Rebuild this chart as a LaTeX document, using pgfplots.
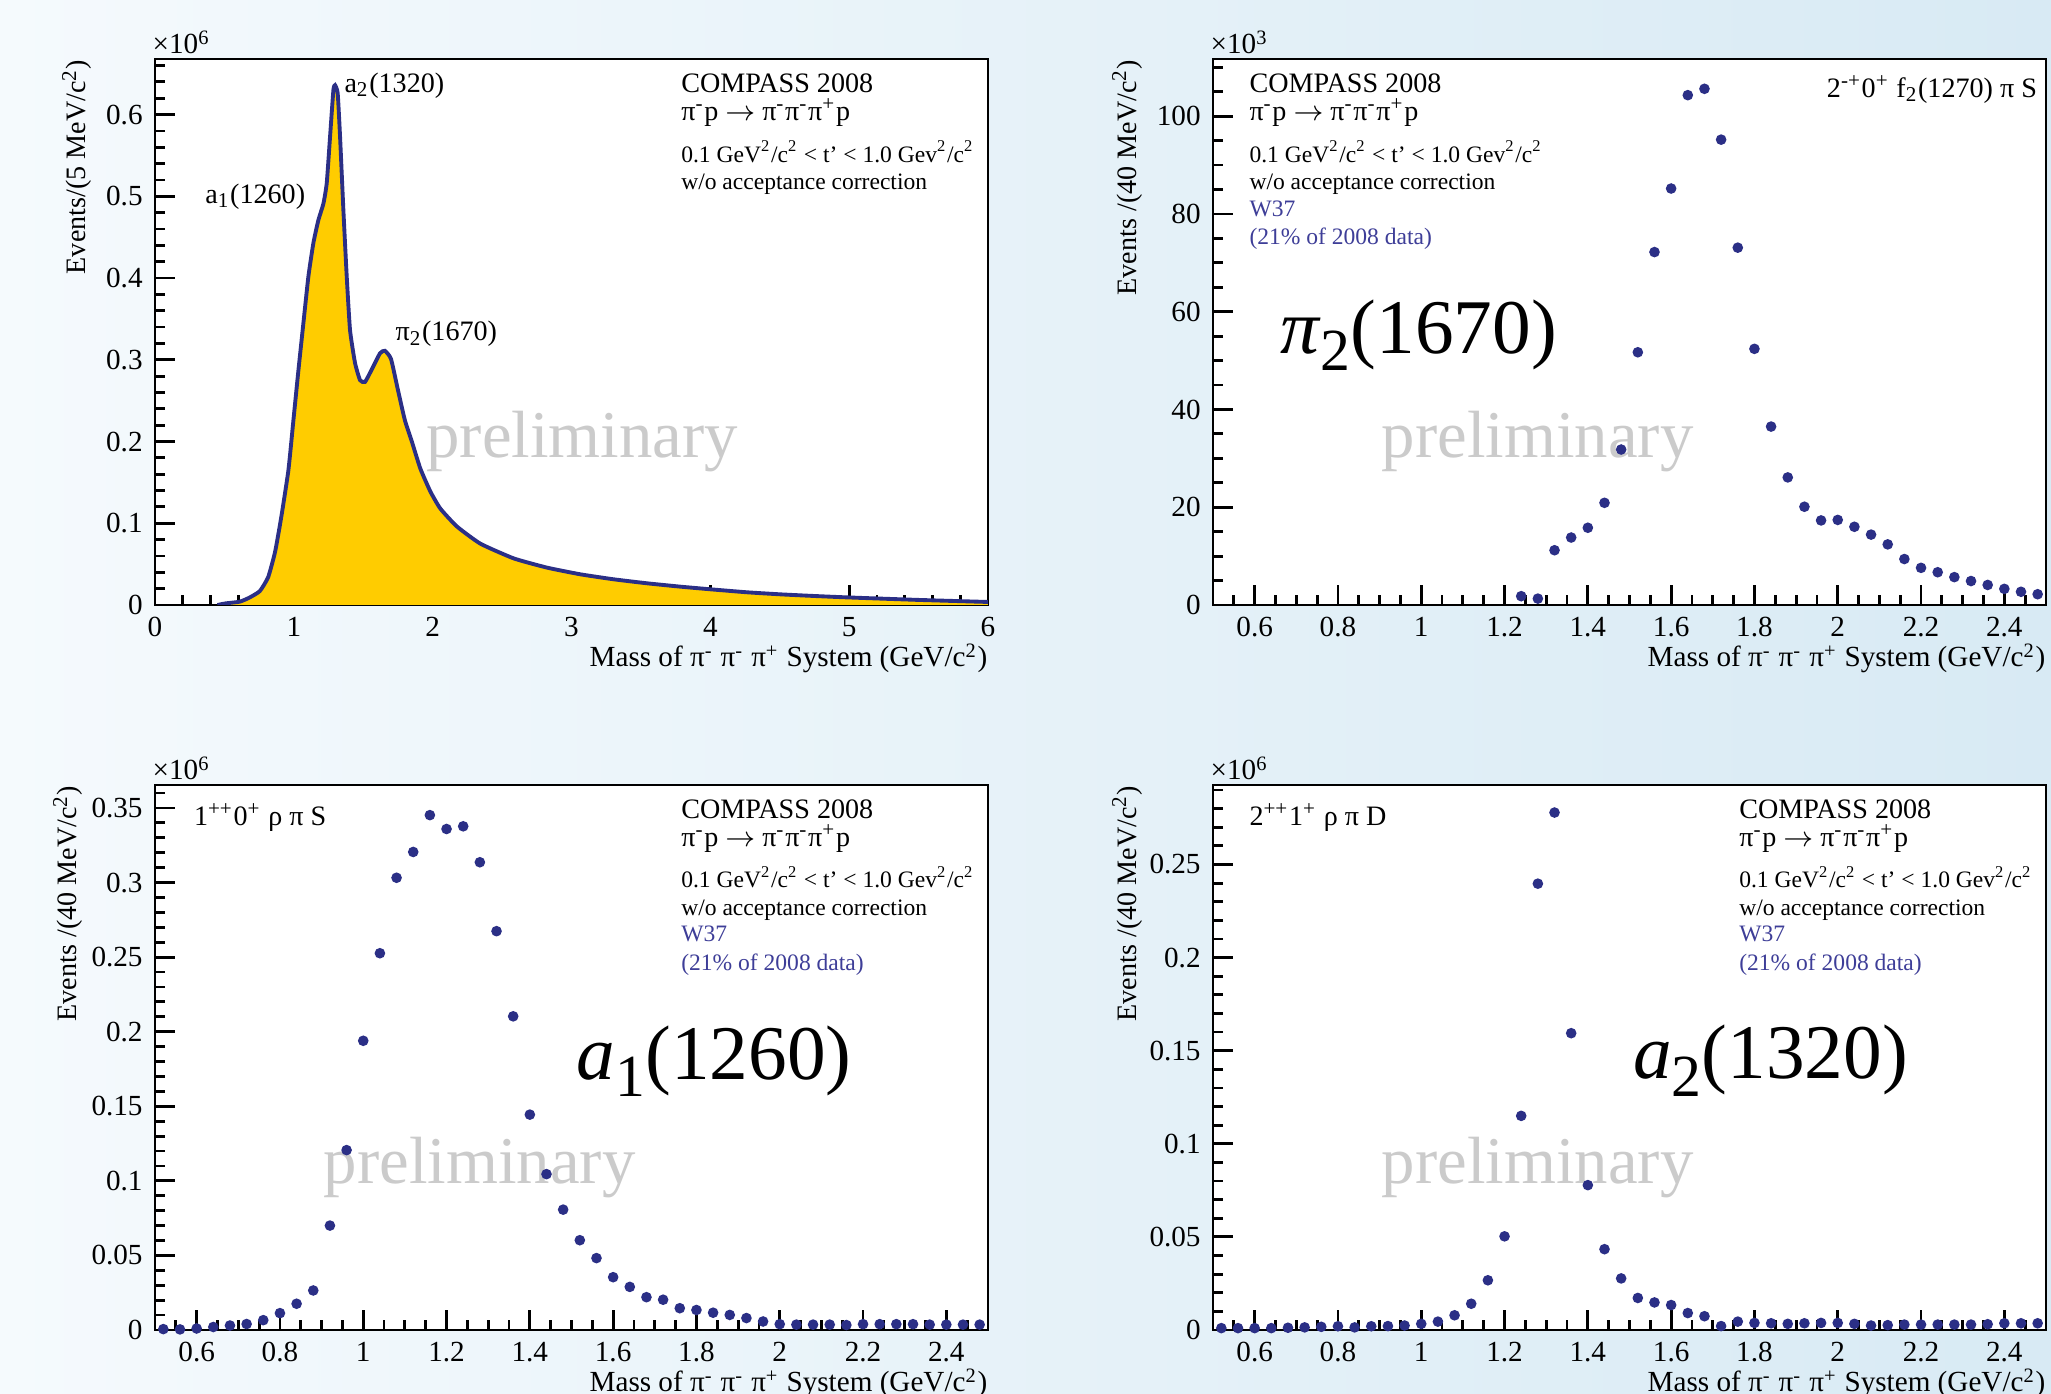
\documentclass[border=0pt]{standalone}
\usepackage{fontspec}
\setmainfont{Liberation Serif}
\usepackage{pgfplots}
\usepackage{pgfplotstable}
\pgfplotsset{compat=1.18}
\definecolor{rootblue}{HTML}{2B2F86}
\definecolor{txtblue}{HTML}{3E3E98}
\definecolor{gold}{HTML}{FFCC00}
\definecolor{wm}{HTML}{CBCBCB}
\definecolor{bgl}{HTML}{F5FAFD}
\definecolor{bgr}{HTML}{D8EAF4}

\newcommand{\tlab}{\fontsize{8.3}{9}\selectfont}
\newcommand{\boxa}{\fontsize{8}{9}\selectfont}
\newcommand{\boxb}{\fontsize{6.7}{8}\selectfont}
\newcommand{\biglab}{\fontsize{22}{26}\selectfont}
\newcommand{\up}[1]{\textsuperscript{#1}}

% text block in the upper part of each panel
\newcommand{\compass}[2]{%
  \node[anchor=base west, font=\boxa, inner sep=0] at (rel axis cs:#1,0.938) {COMPASS 2008};
  \node[anchor=base west, font=\boxa, inner sep=0] at (rel axis cs:#1,0.887)
    {π\up{-}p $\rightarrow$ π\up{-}π\up{-}π\up{+}p};
  \node[anchor=base west, font=\boxb, inner sep=0] at (rel axis cs:#1,0.811)
    {0.1 GeV\up{2}/c\up{2} < t#2 < 1.0 Gev\up{2}/c\up{2}};
  \node[anchor=base west, font=\boxb, inner sep=0] at (rel axis cs:#1,0.761) {w/o acceptance correction};
}
\newcommand{\wdata}[1]{%
  \node[anchor=base west, font=\boxb, inner sep=0, text=txtblue] at (rel axis cs:#1,0.712) {W37};
  \node[anchor=base west, font=\boxb, inner sep=0, text=txtblue] at (rel axis cs:#1,0.660) {(21\% of 2008 data)};
}
\newcommand{\xlab}{%
  \node[anchor=base east, font=\tlab, inner sep=0] at ([yshift=-0.62cm]rel axis cs:1,0)
    {Mass of π\up{-} π\up{-} π\up{+} System (GeV/c\up{2})};
}
\newcommand{\ylab}[2]{%
  \node[rotate=90, anchor=base east, font=\fontsize{8}{9}\selectfont, inner sep=0]
    at ([xshift=#1]rel axis cs:0,1) {#2};
}
\newcommand{\expo}[1]{%
  \node[anchor=base west, font=\tlab, inner sep=0] at ([yshift=0.05cm,xshift=-0.03cm]rel axis cs:0,1) {×10\up{#1}};
}

\pgfplotsset{
  rootaxis/.style={
    scale only axis, width=8.33cm,
    axis line style={line width=0.8pt},
    every tick/.style={line width=0.8pt, black},
    tick align=inside,
    xtick pos=left, ytick pos=left,
    major tick length=0.2cm, minor tick length=0.1cm,
    ticklabel style={font=\tlab},
    axis background/.style={fill=white},
    clip mode=individual,
    scaled ticks=false,
  },
  massaxis/.style={
    xmin=0.5, xmax=2.5,
    xtick={0.6,0.8,1,1.2,1.4,1.6,1.8,2,2.2,2.4},
    xticklabels={0.6,0.8,1,1.2,1.4,1.6,1.8,2,2.2,2.4},
    minor xtick={0.5,0.55,...,2.51},
  },
  dots/.style={only marks, mark=*, mark size=1.3pt, color=rootblue},
}

% full spectrum, 5 MeV bins, in units of 10^6
\pgfplotstableread{
m     n
0.45  0.000
0.51  0.002
0.61  0.004
0.68  0.009
0.755 0.017
0.815 0.034
0.865 0.065
0.91  0.108
0.961 0.165
0.997 0.226
1.033 0.287
1.069 0.345
1.105 0.402
1.141 0.443
1.177 0.471
1.213 0.491
1.237 0.516
1.261 0.573
1.285 0.630
1.297 0.636
1.316 0.626
1.333 0.573
1.357 0.483
1.381 0.402
1.405 0.336
1.441 0.296
1.477 0.275
1.513 0.273
1.561 0.288
1.621 0.308
1.656 0.311
1.700 0.301
1.750 0.263
1.800 0.226
1.850 0.200
1.911 0.167
1.983 0.139
2.055 0.118
2.175 0.096
2.344 0.075
2.584 0.057
2.824 0.0457
3.065 0.0375
3.305 0.0314
3.546 0.0265
3.786 0.0224
4.000 0.0192
4.267 0.0155
4.507 0.0130
4.750 0.0110
5.000 0.0092
5.500 0.0062
6.000 0.0037
}\spectrum

\begin{document}
\begin{tikzpicture}
\useasboundingbox (0,0) rectangle (20.51,13.94);
\clip (0,0) rectangle (20.51,13.94);
\shade[left color=bgl, right color=bgr] (0,0) rectangle (20.51,13.94);

% ---- top left: total spectrum
\begin{axis}[rootaxis, at={(1.55cm,7.89cm)}, anchor=south west, height=5.46cm,
  xmin=0, xmax=6, ymin=0, ymax=0.668,
  xtick={0,1,2,3,4,5,6}, xticklabels={0,1,2,3,4,5,6},
  minor xtick={0,0.2,...,6.01},
  ytick={0,0.1,0.2,0.3,0.4,0.5,0.6}, yticklabels={0,0.1,0.2,0.3,0.4,0.5,0.6},
  minor ytick={0,0.02,...,0.661},
]
\node[anchor=base west, font=\fontsize{19}{22}\selectfont, text=wm, inner sep=0] at (axis cs:1.95,0.18) {preliminary};
\addplot[fill=gold, draw=none, smooth, tension=0.3] table[x=m, y=n] {\spectrum} \closedcycle;
\addplot[draw=rootblue, line width=1.1pt, smooth, tension=0.3] table[x=m, y=n] {\spectrum};
\node[anchor=base west, font=\boxa, inner sep=0] at (axis cs:1.36,0.627) {a\textsubscript{2}(1320)};
\node[anchor=base west, font=\boxa, inner sep=0] at (axis cs:0.358,0.491) {a\textsubscript{1}(1260)};
\node[anchor=base west, font=\boxa, inner sep=0] at (axis cs:1.728,0.323) {π\textsubscript{2}(1670)};
\compass{0.631}{'}
\xlab
\ylab{-0.69cm}{Events/(5 MeV/c\up{2})}
\expo{6}
\end{axis}

% ---- top right: 2-+0+ f2(1270) pi S
\begin{axis}[rootaxis, massaxis, at={(12.13cm,7.89cm)}, anchor=south west, height=5.46cm,
  ymin=0, ymax=111.7,
  ytick={0,20,40,60,80,100}, yticklabels={0,20,40,60,80,100},
  minor ytick={0,5,...,110},
]
\node[anchor=base west, font=\fontsize{19}{22}\selectfont, text=wm, inner sep=0] at (axis cs:0.904,30.1) {preliminary};
\addplot[dots] coordinates {
(1.24,1.8) (1.28,1.3) (1.32,11.2) (1.36,13.8) (1.40,15.8) (1.44,20.9) (1.48,31.8)
(1.52,51.7) (1.56,72.2) (1.60,85.2) (1.64,104.3) (1.68,105.6) (1.72,95.2) (1.76,73.1)
(1.80,52.4) (1.84,36.5) (1.88,26.1) (1.92,20.1) (1.96,17.3) (2.00,17.4) (2.04,16.0)
(2.08,14.4) (2.12,12.4) (2.16,9.4) (2.20,7.6) (2.24,6.7) (2.28,5.7) (2.32,4.9)
(2.36,4.1) (2.40,3.3) (2.44,2.7) (2.48,2.2)
};
\compass{0.043}{’}
\wdata{0.043}
\node[anchor=base east, font=\boxa, inner sep=0] at (rel axis cs:0.990,0.930)
  {2\up{-+}0\up{+} f\textsubscript{2}(1270) π S};
\node[anchor=base west, font=\biglab, inner sep=0] at (axis cs:0.66,51.5)
  {\textit{π}\raisebox{-5pt}{\fontsize{17}{20}\selectfont 2}(1670)};
\xlab
\ylab{-0.77cm}{Events /(40 MeV/c\up{2})}
\expo{3}
\end{axis}

% ---- bottom left: 1++0+ rho pi S
\begin{axis}[rootaxis, massaxis, at={(1.55cm,0.64cm)}, anchor=south west, height=5.45cm,
  ymin=0, ymax=0.3654,
  ytick={0,0.05,0.1,0.15,0.2,0.25,0.3,0.35},
  yticklabels={0,0.05,0.1,0.15,0.2,0.25,0.3,0.35},
  minor ytick={0,0.01,...,0.361},
]
\node[anchor=base west, font=\fontsize{19}{22}\selectfont, text=wm, inner sep=0] at (axis cs:0.904,0.098) {preliminary};
\addplot[dots] coordinates {
(0.52,0.0006) (0.56,0.0004) (0.60,0.001) (0.64,0.002) (0.68,0.003) (0.72,0.004)
(0.76,0.0066) (0.80,0.0113) (0.84,0.0176) (0.88,0.0265) (0.92,0.070) (0.96,0.1206)
(1.00,0.1939) (1.04,0.2526) (1.08,0.3032) (1.12,0.3205) (1.16,0.3452) (1.20,0.3359)
(1.24,0.3377) (1.28,0.3136) (1.32,0.2674) (1.36,0.2103) (1.40,0.1444) (1.44,0.1045)
(1.48,0.0807) (1.52,0.0602) (1.56,0.0482) (1.60,0.0354) (1.64,0.0289) (1.68,0.0220)
(1.72,0.0203) (1.76,0.0146) (1.80,0.0134) (1.84,0.0116) (1.88,0.0101) (1.92,0.0080)
(1.96,0.0057) (2.00,0.0039) (2.04,0.0036) (2.08,0.0036) (2.12,0.0036) (2.16,0.0033)
(2.20,0.0039) (2.24,0.0039) (2.28,0.0039) (2.32,0.0039) (2.36,0.0036) (2.40,0.0036)
(2.44,0.0036) (2.48,0.0036)
};
\compass{0.631}{’}
\wdata{0.631}
\node[anchor=base west, font=\boxa, inner sep=0] at (rel axis cs:0.046,0.925)
  {1\up{++}0\up{+} ρ π S};
\node[anchor=base west, font=\biglab, inner sep=0] at (axis cs:1.511,0.168)
  {\textit{a}\raisebox{-5pt}{\fontsize{17}{20}\selectfont 1}(1260)};
\xlab
\ylab{-0.78cm}{Events /(40 MeV/c\up{2})}
\expo{6}
\end{axis}

% ---- bottom right: 2++1+ rho pi D
\begin{axis}[rootaxis, massaxis, at={(12.13cm,0.64cm)}, anchor=south west, height=5.45cm,
  ymin=0, ymax=0.2927,
  ytick={0,0.05,0.1,0.15,0.2,0.25},
  yticklabels={0,0.05,0.1,0.15,0.2,0.25},
  minor ytick={0,0.01,...,0.291},
]
\node[anchor=base west, font=\fontsize{19}{22}\selectfont, text=wm, inner sep=0] at (axis cs:0.904,0.0787) {preliminary};
\addplot[dots] coordinates {
(0.52,0.0010) (0.56,0.0010) (0.60,0.0010) (0.64,0.0010) (0.68,0.0012) (0.72,0.0014)
(0.76,0.0017) (0.80,0.0020) (0.84,0.0014) (0.88,0.0020) (0.92,0.0021) (0.96,0.0024)
(1.00,0.0033) (1.04,0.0045) (1.08,0.0079) (1.12,0.0141) (1.16,0.0267) (1.20,0.0503)
(1.24,0.1150) (1.28,0.2397) (1.32,0.2779) (1.36,0.1594) (1.40,0.0778) (1.44,0.0434)
(1.48,0.0277) (1.52,0.0172) (1.56,0.0148) (1.60,0.0134) (1.64,0.0091) (1.68,0.0074)
(1.72,0.0021) (1.76,0.0045) (1.80,0.0038) (1.84,0.0036) (1.88,0.0033) (1.92,0.0036)
(1.96,0.0038) (2.00,0.0038) (2.04,0.0033) (2.08,0.0024) (2.12,0.0026) (2.16,0.0029)
(2.20,0.0029) (2.24,0.0029) (2.28,0.0029) (2.32,0.0029) (2.36,0.0031) (2.40,0.0036)
(2.44,0.0036) (2.48,0.0036)
};
\compass{0.631}{’}
\wdata{0.631}
\node[anchor=base west, font=\boxa, inner sep=0] at (rel axis cs:0.043,0.925)
  {2\up{++}1\up{+} ρ π D};
\node[anchor=base west, font=\biglab, inner sep=0] at (axis cs:1.507,0.1348)
  {\textit{a}\raisebox{-5pt}{\fontsize{17}{20}\selectfont 2}(1320)};
\xlab
\ylab{-0.77cm}{Events /(40 MeV/c\up{2})}
\expo{6}
\end{axis}
\end{tikzpicture}
\end{document}
